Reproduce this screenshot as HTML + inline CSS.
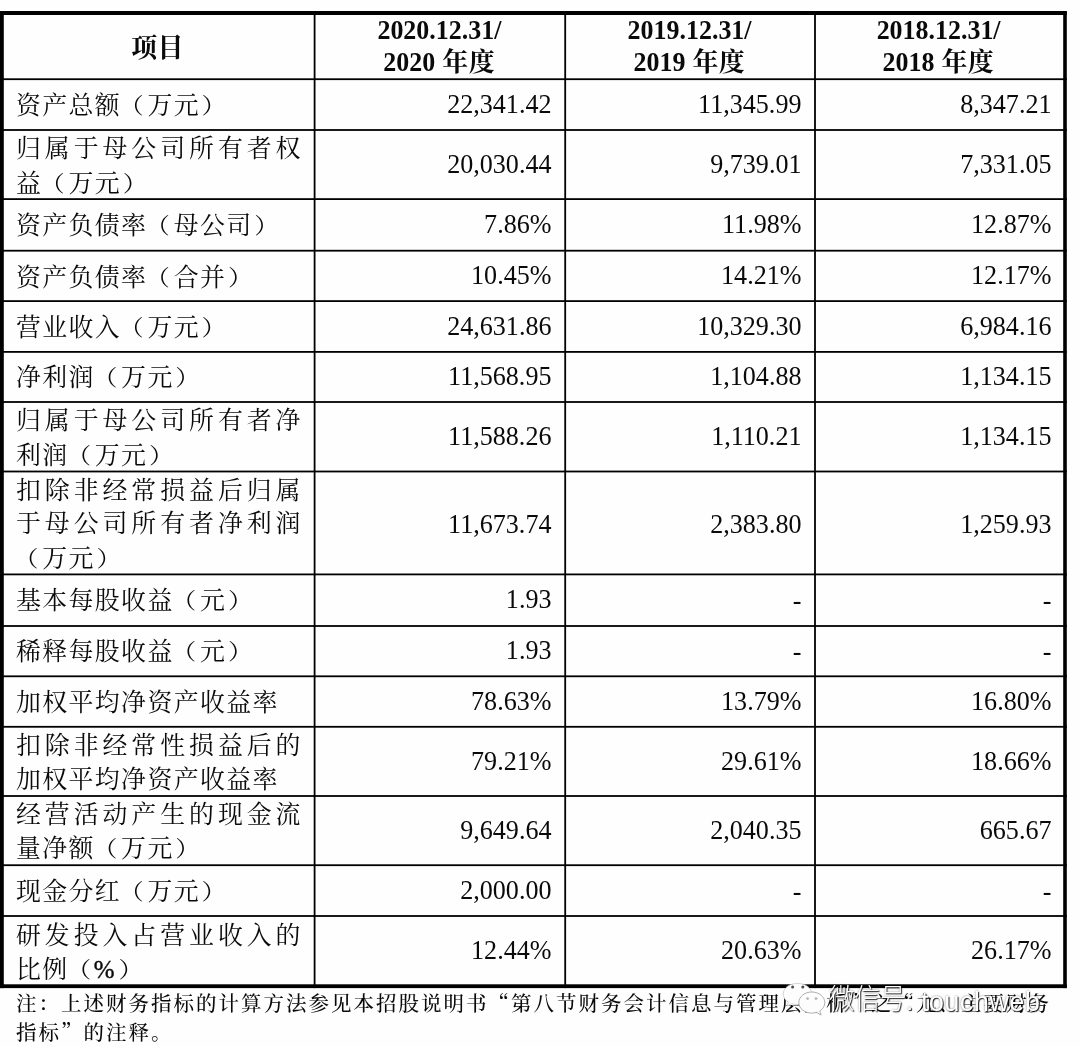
<!DOCTYPE html>
<html lang="zh-CN">
<head>
<meta charset="utf-8">
<title>主要财务指标</title>
<style>
html,body{margin:0;padding:0;background:#fefefe;}
body{width:1080px;height:1046px;position:relative;overflow:hidden;
 font-family:"Liberation Serif","Noto Serif CJK SC",serif;color:#0a0a0a;}
svg.grid{position:absolute;left:0;top:0;}
.t{position:absolute;white-space:nowrap;font-size:24.9px;line-height:32px;height:32px;}
.n{text-align:right;font-size:26.1px;transform:scaleY(1.06);transform-origin:50% 77.5%;}
.b{font-weight:bold;text-align:center;font-size:25.95px;}
.d{display:inline-block;transform:scaleY(1.07);transform-origin:50% 77.5%;}
.c{letter-spacing:0.4px;margin-left:0.6px;}
.note{font-weight:500;}
.note{font-size:20.5px;letter-spacing:2.0px;}
.q{font-family:"Noto Serif CJK SC",serif;}
.pc{-webkit-text-stroke:0.4px #0a0a0a;position:relative;left:-1.2px;}
.pl,.pr{display:inline-block;transform:translateX(-2.4px) scaleY(.88);}
.pr{transform:translateX(1.6px) scaleY(.88);}
.wm{position:absolute;white-space:nowrap;font-family:"Liberation Sans","Noto Sans CJK SC",sans-serif;color:#fff;
 text-shadow:1px 1px 1px rgba(0,0,0,.85),0 0 2px rgba(0,0,0,.5);}
</style>
</head>
<body>

<svg class="grid" width="1080" height="1046" viewBox="0 0 1080 1046" fill="#000">
<rect x="0" y="11" width="1066.8" height="4"/>
<rect x="0" y="984.3" width="1066.8" height="3.8"/>
<rect x="0" y="11" width="3.8" height="977.1"/>
<rect x="1063.2" y="11" width="3.6" height="977.1"/>
<rect x="0" y="78.3" width="1066.8" height="1.8"/>
<rect x="0" y="129.1" width="1066.8" height="1.8"/>
<rect x="0" y="198.2" width="1066.8" height="1.8"/>
<rect x="0" y="249.8" width="1066.8" height="1.8"/>
<rect x="0" y="300.2" width="1066.8" height="1.8"/>
<rect x="0" y="351" width="1066.8" height="1.8"/>
<rect x="0" y="401.1" width="1066.8" height="1.8"/>
<rect x="0" y="470.6" width="1066.8" height="1.8"/>
<rect x="0" y="573.5" width="1066.8" height="1.8"/>
<rect x="0" y="625.1" width="1066.8" height="1.8"/>
<rect x="0" y="675.4" width="1066.8" height="1.8"/>
<rect x="0" y="725.9" width="1066.8" height="1.8"/>
<rect x="0" y="795.1" width="1066.8" height="1.8"/>
<rect x="0" y="864.3" width="1066.8" height="1.8"/>
<rect x="0" y="915.1" width="1066.8" height="1.8"/>
<rect x="313.7" y="11" width="1.8" height="977.1"/>
<rect x="564.3" y="11" width="1.8" height="977.1"/>
<rect x="814.1" y="11" width="1.8" height="977.1"/>
</svg>
<div class="t b" style="left:3.8px;width:306.8px;top:33.1px"><span class="c">项目</span></div>
<div class="t b" style="left:314.1px;width:250.6px;top:14.7px"><span class="d">2020.12.31/</span></div>
<div class="t b" style="left:313.9px;width:250.6px;top:47.4px"><span class="d">2020</span> <span class="c">年度</span></div>
<div class="t b" style="left:564.7px;width:249.8px;top:14.7px"><span class="d">2019.12.31/</span></div>
<div class="t b" style="left:564.5px;width:249.8px;top:47.4px"><span class="d">2019</span> <span class="c">年度</span></div>
<div class="t b" style="left:814.5px;width:248.2px;top:14.7px"><span class="d">2018.12.31/</span></div>
<div class="t b" style="left:814.3px;width:248.2px;top:47.4px"><span class="d">2018</span> <span class="c">年度</span></div>
<div class="t" style="left:15.95px;top:89.80px;letter-spacing:1.400px">资产总额<span class="pl">（</span>万元<span class="pr">）</span></div>
<div class="t n" style="left:351.5px;width:200px;top:88.85px">22,341.42</div>
<div class="t n" style="left:601.5px;width:200px;top:88.85px">11,345.99</div>
<div class="t n" style="left:851.5px;width:200px;top:88.85px">8,347.21</div>
<div class="t" style="left:15.95px;top:132.80px;letter-spacing:3.960px">归属于母公司所有者权</div>
<div class="t" style="left:15.95px;top:167.90px;letter-spacing:1.400px">益<span class="pl">（</span>万元<span class="pr">）</span></div>
<div class="t n" style="left:351.5px;width:200px;top:148.80px">20,030.44</div>
<div class="t n" style="left:601.5px;width:200px;top:148.80px">9,739.01</div>
<div class="t n" style="left:851.5px;width:200px;top:148.80px">7,331.05</div>
<div class="t" style="left:15.95px;top:210.30px;letter-spacing:1.400px">资产负债率<span class="pl">（</span>母公司<span class="pr">）</span></div>
<div class="t n" style="left:351.5px;width:200px;top:209.15px">7.86%</div>
<div class="t n" style="left:601.5px;width:200px;top:209.15px">11.98%</div>
<div class="t n" style="left:851.5px;width:200px;top:209.15px">12.87%</div>
<div class="t" style="left:15.95px;top:261.90px;letter-spacing:1.400px">资产负债率<span class="pl">（</span>合并<span class="pr">）</span></div>
<div class="t n" style="left:351.5px;width:200px;top:260.15px">10.45%</div>
<div class="t n" style="left:601.5px;width:200px;top:260.15px">14.21%</div>
<div class="t n" style="left:851.5px;width:200px;top:260.15px">12.17%</div>
<div class="t" style="left:15.95px;top:311.70px;letter-spacing:1.400px">营业收入<span class="pl">（</span>万元<span class="pr">）</span></div>
<div class="t n" style="left:351.5px;width:200px;top:310.75px">24,631.86</div>
<div class="t n" style="left:601.5px;width:200px;top:310.75px">10,329.30</div>
<div class="t n" style="left:851.5px;width:200px;top:310.75px">6,984.16</div>
<div class="t" style="left:15.95px;top:362.45px;letter-spacing:1.400px">净利润<span class="pl">（</span>万元<span class="pr">）</span></div>
<div class="t n" style="left:351.5px;width:200px;top:361.20px">11,568.95</div>
<div class="t n" style="left:601.5px;width:200px;top:361.20px">1,104.88</div>
<div class="t n" style="left:851.5px;width:200px;top:361.20px">1,134.15</div>
<div class="t" style="left:15.95px;top:405.40px;letter-spacing:3.960px">归属于母公司所有者净</div>
<div class="t" style="left:15.95px;top:439.80px;letter-spacing:1.400px">利润<span class="pl">（</span>万元<span class="pr">）</span></div>
<div class="t n" style="left:351.5px;width:200px;top:421.00px">11,588.26</div>
<div class="t n" style="left:601.5px;width:200px;top:421.00px">1,110.21</div>
<div class="t n" style="left:851.5px;width:200px;top:421.00px">1,134.15</div>
<div class="t" style="left:15.95px;top:474.75px;letter-spacing:3.960px">扣除非经常损益后归属</div>
<div class="t" style="left:15.95px;top:507.85px;letter-spacing:3.960px">于母公司所有者净利润</div>
<div class="t" style="left:15.95px;top:543.35px;letter-spacing:1.400px"><span class="pl">（</span>万元<span class="pr">）</span></div>
<div class="t n" style="left:351.5px;width:200px;top:508.50px">11,673.74</div>
<div class="t n" style="left:601.5px;width:200px;top:508.50px">2,383.80</div>
<div class="t n" style="left:851.5px;width:200px;top:508.50px">1,259.93</div>
<div class="t" style="left:15.95px;top:584.70px;letter-spacing:1.400px">基本每股收益<span class="pl">（</span>元<span class="pr">）</span></div>
<div class="t n" style="left:351.5px;width:200px;top:584.45px">1.93</div>
<div class="t n" style="left:601.5px;width:200px;top:585.45px">-</div>
<div class="t n" style="left:851.5px;width:200px;top:585.45px">-</div>
<div class="t" style="left:15.95px;top:636.30px;letter-spacing:1.400px">稀释每股收益<span class="pl">（</span>元<span class="pr">）</span></div>
<div class="t n" style="left:351.5px;width:200px;top:635.40px">1.93</div>
<div class="t n" style="left:601.5px;width:200px;top:636.40px">-</div>
<div class="t n" style="left:851.5px;width:200px;top:636.40px">-</div>
<div class="t" style="left:15.95px;top:687.25px;letter-spacing:1.400px">加权平均净资产收益率</div>
<div class="t n" style="left:351.5px;width:200px;top:685.80px">78.63%</div>
<div class="t n" style="left:601.5px;width:200px;top:685.80px">13.79%</div>
<div class="t n" style="left:851.5px;width:200px;top:685.80px">16.80%</div>
<div class="t" style="left:15.95px;top:730.10px;letter-spacing:3.960px">扣除非经常性损益后的</div>
<div class="t" style="left:15.95px;top:763.50px;letter-spacing:1.400px">加权平均净资产收益率</div>
<div class="t n" style="left:351.5px;width:200px;top:745.65px">79.21%</div>
<div class="t n" style="left:601.5px;width:200px;top:745.65px">29.61%</div>
<div class="t n" style="left:851.5px;width:200px;top:745.65px">18.66%</div>
<div class="t" style="left:15.95px;top:799.15px;letter-spacing:3.960px">经营活动产生的现金流</div>
<div class="t" style="left:15.95px;top:832.85px;letter-spacing:1.400px">量净额<span class="pl">（</span>万元<span class="pr">）</span></div>
<div class="t n" style="left:351.5px;width:200px;top:814.85px">9,649.64</div>
<div class="t n" style="left:601.5px;width:200px;top:814.85px">2,040.35</div>
<div class="t n" style="left:851.5px;width:200px;top:814.85px">665.67</div>
<div class="t" style="left:15.95px;top:876.40px;letter-spacing:1.400px">现金分红<span class="pl">（</span>万元<span class="pr">）</span></div>
<div class="t n" style="left:351.5px;width:200px;top:874.85px">2,000.00</div>
<div class="t n" style="left:601.5px;width:200px;top:875.85px">-</div>
<div class="t n" style="left:851.5px;width:200px;top:875.85px">-</div>
<div class="t" style="left:15.95px;top:919.55px;letter-spacing:3.960px">研发投入占营业收入的</div>
<div class="t" style="left:15.95px;top:953.65px;letter-spacing:1.400px">比例<span class="pl">（</span><span class="pc">%</span><span class="pr">）</span></div>
<div class="t n" style="left:351.5px;width:200px;top:934.90px">12.44%</div>
<div class="t n" style="left:601.5px;width:200px;top:934.90px">20.63%</div>
<div class="t n" style="left:851.5px;width:200px;top:934.90px">26.17%</div>
<div class="t note" style="left:15.9px;top:986px">注：上述财务指标的计算方法参见本招股说明书<span class="q">“</span>第八节财务会计信息与管理层分析<span class="q">”</span>之<span class="q">“</span>九、主要财务</div>
<div class="t note" style="left:15.9px;top:1014.5px">指标<span class="q">”</span>的注释。</div>
<svg class="grid" width="1080" height="1046" viewBox="0 0 1080 1046">
<g stroke="#c9c9c9" stroke-width="0.8" fill="#fdfdfd" transform="translate(0,0.8)">
<path d="M797.5 982.6c-7.9 0-14.3 4.7-14.3 10.6 0 3.3 2 6.2 5.200 8.100l-1.500 4.200 4.900-2.600c1.800 0.500 3.700 0.800 5.700 0.800 7.900 0 14.300-4.700 14.300-10.500 0-5.900-6.400-10.600-14.300-10.600z"/>
<path d="M811.8 991.2c-7.200 0-13 4.700-13 10.600 0 5.800 5.800 10.500 13 10.500 1.700 0 3.300-0.300 4.800-0.700l4.500 2.700-1.300-4.100c3-1.900 5-4.900 5-8.400 0-5.900-5.800-10.600-13-10.600z" stroke="#9a9a9a"/>
</g>
<g fill="#4a4a4a"><circle cx="792.6" cy="986.9" r="1.5"/><circle cx="802.8" cy="986.9" r="1.5"/></g>
<g fill="#b5b5b5"><circle cx="807.6" cy="998.6" r="1.4"/><circle cx="816.0" cy="998.6" r="1.4"/></g>
</svg>
<div class="wm" style="left:829px;top:982.3px;font-size:27.3px;line-height:34px"><span style="display:inline-block;font-size:25.6px;font-weight:300;transform:scaleY(1.1);transform-origin:50% 60%">微信号</span><span style="position:relative;top:2px">:</span><span style="margin-left:7.6px;letter-spacing:0.3px;position:relative;top:2.3px">touchweb</span></div>
</body>
</html>
